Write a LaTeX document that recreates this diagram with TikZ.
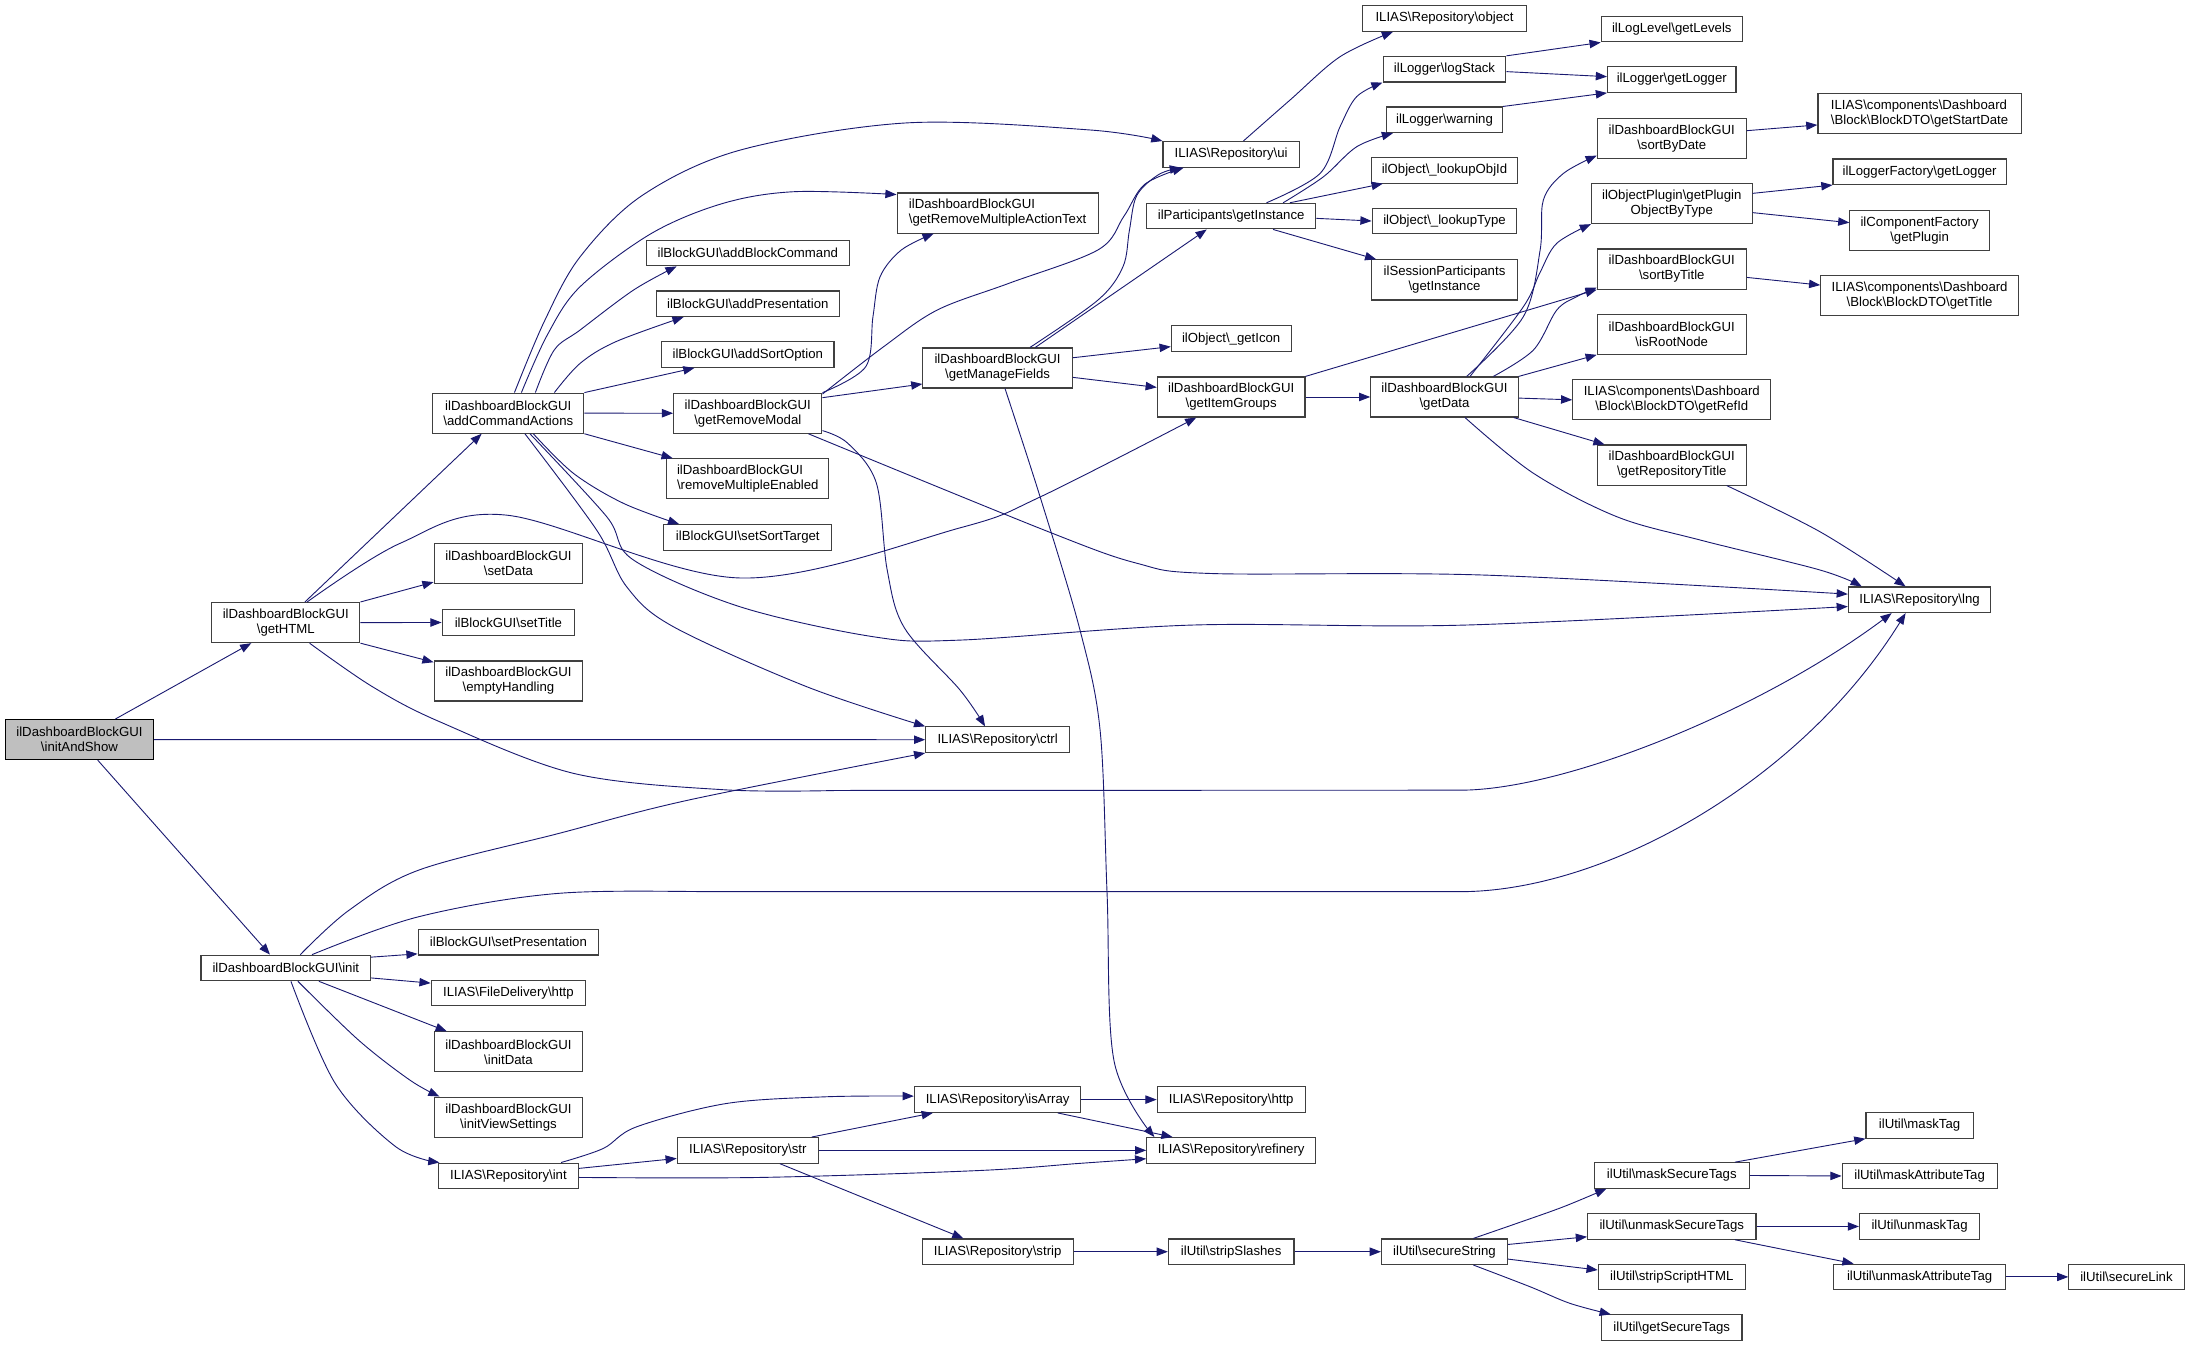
\documentclass[tikz,border=0pt]{standalone}
\usepackage{fontspec}
\setmainfont{Liberation Sans}
\usetikzlibrary{arrows.meta}
\definecolor{edgecol}{HTML}{191970}
\definecolor{bordcol}{HTML}{404040}
\definecolor{rootfill}{HTML}{BFBFBF}
\newcommand\bsl{\textbackslash}
\newcommand\nb[7][]{\node[bx,#1,minimum width=#5pt,minimum height=#6pt] (#2) at (#3,#4) {#7};}
\begin{document}
\begin{tikzpicture}[x=1pt,y=-1pt,
  bx/.style={draw=bordcol, line width=0.8pt, fill=white, inner sep=0pt, align=center, font=\fontsize{9.45}{10.7}\selectfont},
  edg/.style={draw=edgecol, line width=0.65pt, -{Triangle[length=8pt,width=6pt]}},
  sm/.style={smooth, tension=0.55}]
\useasboundingbox (0,0) rectangle (1568,964.9);
% rank 0-2
\nb[fill=rootfill,draw=black]{root}{56.9}{529.75}{106.3}{28.7}{ilDashboardBlockGUI\\\bsl initAndShow}
\nb{gh}{204.75}{445.95}{106.1}{28.7}{ilDashboardBlockGUI\\\bsl getHTML}
\nb{init}{204.75}{693.35}{121.5}{18.3}{ilDashboardBlockGUI\bsl init}
\nb{aca}{364.1}{295.95}{108.2}{28.7}{ilDashboardBlockGUI\\\bsl addCommandActions}
\nb{sd}{364.2}{403.7}{106.5}{28.7}{ilDashboardBlockGUI\\\bsl setData}
\nb{st}{364.2}{445.9}{95}{18.3}{ilBlockGUI\bsl setTitle}
\nb{eh}{364.2}{487.8}{106.5}{28.7}{ilDashboardBlockGUI\\\bsl emptyHandling}
\nb{sp}{364.2}{674.9}{129.4}{18.3}{ilBlockGUI\bsl setPresentation}
\nb{fd}{364.2}{711.35}{110.7}{18.3}{ILIAS\bsl FileDelivery\bsl http}
\nb{idata}{364.2}{753.45}{106}{28.7}{ilDashboardBlockGUI\\\bsl initData}
\nb{ivs}{364.2}{800.2}{106}{28.7}{ilDashboardBlockGUI\\\bsl initViewSettings}
\nb{rint}{364.2}{842.25}{100.5}{18.3}{ILIAS\bsl Repository\bsl int}
% rank 3
\nb{abc}{535.65}{181.25}{145.3}{18.3}{ilBlockGUI\bsl addBlockCommand}
\nb{ap}{535.65}{217.55}{131}{18.3}{ilBlockGUI\bsl addPresentation}
\nb{aso}{535.65}{254}{123.5}{18.3}{ilBlockGUI\bsl addSortOption}
\nb{grm}{535.65}{296}{106.2}{28.7}{ilDashboardBlockGUI\\\bsl getRemoveModal}
\nb[align=left]{rme}{535.65}{342.95}{116}{28.7}{ilDashboardBlockGUI\\\bsl removeMultipleEnabled}
\nb{sst}{535.65}{385}{120.5}{18.3}{ilBlockGUI\bsl setSortTarget}
\nb{str}{535.65}{824}{101}{18.3}{ILIAS\bsl Repository\bsl str}
% rank 4
\nb[align=left]{grmat}{714.6}{152.6}{144}{28.7}{ilDashboardBlockGUI\\\bsl getRemoveMultipleActionText}
\nb{gmf}{714.6}{263.6}{107}{28.7}{ilDashboardBlockGUI\\\bsl getManageFields}
\nb{ctrl}{714.6}{529.85}{103}{18.3}{ILIAS\bsl Repository\bsl ctrl}
\nb{isa}{714.6}{787.65}{119.3}{18.3}{ILIAS\bsl Repository\bsl isArray}
\nb{strip}{714.6}{896.6}{108.2}{18.3}{ILIAS\bsl Repository\bsl strip}
% rank 5
\nb{ui}{881.9}{110.55}{97.7}{18.3}{ILIAS\bsl Repository\bsl ui}
\nb{pgi}{881.9}{154.8}{121.2}{18.3}{ilParticipants\bsl getInstance}
\nb{gicon}{881.9}{242.6}{85.8}{18.3}{ilObject\bsl\_getIcon}
\nb{gig}{881.9}{284.35}{105.8}{28.7}{ilDashboardBlockGUI\\\bsl getItemGroups}
\nb{rhttp}{881.9}{787.65}{106}{18.3}{ILIAS\bsl Repository\bsl http}
\nb{ref}{881.9}{824}{121}{18.3}{ILIAS\bsl Repository\bsl refinery}
\nb{ss}{881.9}{896.6}{90}{18.3}{ilUtil\bsl stripSlashes}
% rank 6
\nb{obj}{1034.7}{13.25}{117}{18.3}{ILIAS\bsl Repository\bsl object}
\nb{ls}{1034.7}{49.55}{88}{18.3}{ilLogger\bsl logStack}
\nb{warn}{1034.7}{85.8}{83}{18.3}{ilLogger\bsl warning}
\nb{loid}{1034.7}{122}{105}{18.3}{ilObject\bsl\_lookupObjId}
\nb{lt}{1034.7}{158.3}{103.7}{18.3}{ilObject\bsl\_lookupType}
\nb{spi}{1034.7}{200.5}{104}{28.7}{ilSessionParticipants\\\bsl getInstance}
\nb{gd}{1034.7}{284.35}{105.6}{28.7}{ilDashboardBlockGUI\\\bsl getData}
\nb{sec}{1034.7}{896.6}{90.3}{18.3}{ilUtil\bsl secureString}
% rank 7
\nb{gl}{1197.5}{20.85}{101}{18.3}{ilLogLevel\bsl getLevels}
\nb{glog}{1197.5}{57}{92}{18.3}{ilLogger\bsl getLogger}
\nb{sbd}{1197.5}{99.2}{106.7}{28.7}{ilDashboardBlockGUI\\\bsl sortByDate}
\nb{opl}{1197.5}{145.8}{115}{28.7}{ilObjectPlugin\bsl getPlugin\\ObjectByType}
\nb{sbt}{1197.5}{192.7}{106.7}{28.7}{ilDashboardBlockGUI\\\bsl sortByTitle}
\nb{irn}{1197.5}{239.4}{106.7}{28.7}{ilDashboardBlockGUI\\\bsl isRootNode}
\nb{gri}{1197.5}{286.4}{141.8}{28.7}{ILIAS\bsl components\bsl Dashboard\\\bsl Block\bsl BlockDTO\bsl getRefId}
\nb{grt}{1197.5}{333.1}{106.7}{28.7}{ilDashboardBlockGUI\\\bsl getRepositoryTitle}
\nb{mst}{1197.5}{842}{111}{18.3}{ilUtil\bsl maskSecureTags}
\nb{ust}{1197.5}{878.5}{120.7}{18.3}{ilUtil\bsl unmaskSecureTags}
\nb{ssh}{1197.5}{914.65}{105.3}{18.3}{ilUtil\bsl stripScriptHTML}
\nb{gst}{1197.5}{951}{100.6}{18.3}{ilUtil\bsl getSecureTags}
% rank 8
\nb[align=left]{gsd}{1375}{81.15}{145.6}{28.7}{ILIAS\bsl components\bsl Dashboard\\\bsl Block\bsl BlockDTO\bsl getStartDate}
\nb{lfg}{1375}{123}{124}{18.3}{ilLoggerFactory\bsl getLogger}
\nb{cfg}{1375}{165}{99.8}{28.7}{ilComponentFactory\\\bsl getPlugin}
\nb{gt}{1375}{211.95}{141.5}{28.7}{ILIAS\bsl components\bsl Dashboard\\\bsl Block\bsl BlockDTO\bsl getTitle}
\nb{lng}{1375}{429.65}{102}{18.3}{ILIAS\bsl Repository\bsl lng}
\nb{mt}{1375}{806.1}{76.8}{18.3}{ilUtil\bsl maskTag}
\nb{mat}{1375}{842.35}{111}{18.3}{ilUtil\bsl maskAttributeTag}
\nb{ut}{1375}{878.5}{86.1}{18.3}{ilUtil\bsl unmaskTag}
\nb{uat}{1375}{914.65}{123}{18.3}{ilUtil\bsl unmaskAttributeTag}
\nb{sl}{1523.2}{914.65}{82.6}{18.3}{ilUtil\bsl secureLink}

% ---- edges ----
% root
\draw[edg] ([xshift=25.8pt]root.north) -- ([xshift=-24.75pt]gh.south);
\draw[edg] (root.east) -- (ctrl.west);
\draw[edg] ([xshift=13.1pt]root.south) -- ([xshift=-11.35pt]init.north);
% getHTML
\draw[edg] ([xshift=13.65pt]gh.north) -- ([xshift=-19.1pt]aca.south);
\draw[edg] (gh.north east) -- ([yshift=1.5pt]sd.south west);
\draw[edg] (gh.east) -- (st.west);
\draw[edg] (gh.south east) -- ([yshift=-1.3pt]eh.north west);
\draw[edg] plot[sm] coordinates {([xshift=15.25pt]gh.north) (287,389) (363,369) (530,414) (688,378) (745,356) ([xshift=-25pt]gig.south)};
\draw[edg] plot[sm] coordinates {([xshift=17pt]gh.south) (266.8,491.9) (315,517) (411,554) (518.5,565.7) (600,566.2)} -- (1046,566) .. controls (1120,566) and (1260,510) .. ([xshift=-20pt]lng.south);
% init
\draw[edg] plot[sm] coordinates {([xshift=18.75pt]init.north) (300.1,656.6) (400.2,639.9) (523,638.7) (600,638.7)} -- (1045.8,638.7) .. controls (1150,638.7) and (1290,560) .. ([xshift=-10pt]lng.south);
\draw[edg] plot[sm] coordinates {([xshift=10.35pt]init.north) (250,652) (300.1,623.2) (400.2,597) (493.6,573) (ctrl.south west)};
\draw[edg] ([yshift=-1.8pt]init.north east) -- ([yshift=1.2pt]sp.south west);
\draw[edg] ([yshift=2.4pt]init.south east) -- ([yshift=-2.4pt]fd.north west);
\draw[edg] ([xshift=23.65pt]init.south) -- ([xshift=9.2pt]idata.north west);
\draw[edg] plot[sm] coordinates {([xshift=8.65pt]init.south) (256.8,745) (293.5,773.6) ([xshift=4pt]ivs.north west)};
\draw[edg] plot[sm] coordinates {([xshift=3.65pt]init.south) (240.1,776) (283.5,821.4) ([xshift=1.2pt]rint.north west)};
% addCommandActions
\draw[edg] plot[sm] coordinates {([xshift=4.4pt]aca.north) (390,230) (415.5,184) (460,140) (530.6,107.4) (650,88) (780.8,93.1) (ui.north west)};
\draw[edg] plot[sm] coordinates {([xshift=9.4pt]aca.north) (392,240) (415.5,205.4) (466.6,167.2) (517.8,145.7) (569,137.3) ([yshift=-1.5pt]grmat.north west)};
\draw[edg] plot[sm] coordinates {([xshift=19.4pt]aca.north) (397,250.7) (415.5,236.4) (453.9,207.7) ([xshift=-51pt]abc.south)};
\draw[edg] plot[sm] coordinates {([xshift=33pt]aca.north) (415.5,260.3) (441,244.8) ([xshift=-46pt]ap.south)};
\draw[edg] (aca.north east) -- ([xshift=-38.2pt]aso.south);
\draw[edg] (aca.east) -- (grm.west);
\draw[edg] (aca.south east) -- ([xshift=4.6pt]rme.north west);
\draw[edg] plot[sm] coordinates {([xshift=17.9pt]aca.south) (410.7,339) (446.5,360.5) ([xshift=11.5pt]sst.north west)};
\draw[edg] plot[sm] coordinates {([xshift=11.9pt]aca.south) (427.4,379.7) (448.9,420.3) (482.3,448.9) (577.9,491.9) (ctrl.north west)};
\draw[edg] plot[sm] coordinates {([xshift=15.5pt]aca.south) (434.6,370.1) (453.7,401.1) (530,434.6) (625.6,456.1) (687.7,458.5) (854.8,447.7) (1050.6,447.7) ([yshift=-4.8pt]lng.west)};
% getRemoveModal
\draw[edg] plot[sm] coordinates {(grm.north east) (620.1,262.7) (625.3,226.9) (630.4,198.2) (645.7,179) ([xshift=-45.8pt]grmat.south)};
\draw[edg] plot[sm] coordinates {([yshift=-1pt]grm.north east) (633,248.3) (671.3,222.1) (722.5,203) (786.5,179) (805,155) (820,132) ([xshift=-34pt]ui.south)};
\draw[edg] ([yshift=-3.6pt]grm.north east) -- ([yshift=3.3pt]gmf.south west);
\draw[edg] plot[sm] coordinates {([yshift=2.3pt]grm.south east) (607.4,317.6) (627.8,346.2) (635.5,408.3) (648,450) (687.7,494.3) ([xshift=-9pt]ctrl.north)};
\draw[edg] plot[sm] coordinates {([xshift=43.5pt]grm.south) (748,379.7) (814.5,403.5) (867.6,410.8) (1062.5,411.9) ([yshift=4.1pt]lng.west)};
% getManageFields
\draw[edg] plot[sm] coordinates {([xshift=23.2pt]gmf.north) (786.5,214.9) (804.4,191) (809,165) (814.3,140) (830,125) ([xshift=-36pt]ui.south)};
\draw[edg] ([xshift=27pt]gmf.north) -- ([xshift=-17.5pt]pgi.south);
\draw[edg] ([yshift=-7.4pt]gmf.north east) -- ([yshift=-5.7pt]gicon.west);
\draw[edg] ([yshift=-6.7pt]gmf.east) -- ([yshift=6.85pt]gig.west);
\draw[edg] plot[sm] coordinates {([xshift=5.3pt]gmf.south) (745,355.8) (773.6,451.3) (788,523) (793,640) (798,760) ([xshift=-55pt]ref.north)};
% ilParticipants
\draw[edg] plot[sm] coordinates {([xshift=25.3pt]pgi.north) (945.6,124.2) (959.9,90.7) (971.8,69.2) (ls.south west)};
\draw[edg] plot[sm] coordinates {([xshift=37.2pt]pgi.north) (948,126.6) (971.8,105.1) ([xshift=5pt]warn.south west)};
\draw[edg] ([xshift=42pt]pgi.north) -- ([xshift=8.7pt]loid.south west);
\draw[edg] ([yshift=-1.6pt]pgi.east) -- (lt.west);
\draw[edg] ([xshift=30pt]pgi.south) -- ([xshift=3.5pt]spi.north west);
% ui
\draw[edg] plot[sm] coordinates {([xshift=8.75pt]ui.north) (924.1,71.6) (959.9,40.6) ([xshift=22pt]obj.south west)};
% getItemGroups
\draw[edg] (gig.east) -- (gd.west);
\draw[edg] (gig.north east) -- (sbt.south west);
% getData
\draw[edg] plot[sm] coordinates {([xshift=15.9pt]gd.north) (1091.2,226.8) (1103.2,179.1) (1105.5,143.3) (1119.9,124.2) ([yshift=2.5pt]sbd.south west)};
\draw[edg] plot[sm] coordinates {([xshift=18.3pt]gd.north) (1091.2,219.7) (1103.2,195) (1115.1,174.3) (opl.south west)};
\draw[edg] plot[sm] coordinates {([xshift=35pt]gd.north) (1098.4,250.7) (1115.1,222.1) (1129.4,212.5) ([yshift=1.5pt]sbt.south west)};
\draw[edg] (gd.north east) -- (irn.south west);
\draw[edg] ([yshift=-0.8pt]gd.east) -- (gri.west);
\draw[edg] ([xshift=-3.6pt]gd.south east) -- ([xshift=5.6pt]grt.north west);
\draw[edg] plot[sm] coordinates {([xshift=14.7pt]gd.south) (1098.4,339) (1158.1,370.1) (1217.8,386.8) (1303.7,408.3) ([xshift=10pt]lng.north west)};
\draw[edg] plot[sm] coordinates {([xshift=39.4pt]grt.south) (1303.7,380.9) ([xshift=-10pt]lng.north)};
% loggers
\draw[edg] (ls.north east) -- (gl.south west);
\draw[edg] ([yshift=-1.75pt]ls.east) -- ([yshift=2.1pt]glog.west);
\draw[edg] (warn.north east) -- (glog.south west);
\draw[edg] ([yshift=5.6pt]sbd.east) -- ([yshift=-8.35pt]gsd.west);
\draw[edg] ([yshift=7.3pt]opl.east) -- (lfg.south west);
\draw[edg] ([yshift=-6.5pt]opl.east) -- ([yshift=5.5pt]cfg.west);
\draw[edg] ([yshift=-6pt]sbt.east) -- ([yshift=7.75pt]gt.west);
% Repository\int etc.
\draw[edg] plot[sm] coordinates {([xshift=37.7pt]rint.north) (432.2,822.6) (456.1,807.1) (520.5,790.4) (592.2,785.6) ([yshift=2.5pt]isa.west)};
\draw[edg] ([yshift=5.35pt]rint.east) -- ([yshift=-5.8pt]str.west);
\draw[edg] plot[sm] coordinates {([yshift=-1.15pt]rint.east) (544.4,843.4) (700,838.5) (773.6,833.3) ([yshift=-6pt]ref.west)};
\draw[edg] ([xshift=45.75pt]str.north) -- ([xshift=13.65pt]isa.south west);
\draw[edg] (str.east) -- (ref.west);
\draw[edg] ([xshift=23pt]str.south) -- ([xshift=-24.5pt]strip.north);
\draw[edg] (isa.east) -- (rhttp.west);
\draw[edg] ([xshift=-17pt]isa.south east) -- ([xshift=-42pt]ref.north);
\draw[edg] (strip.east) -- (ss.west);
\draw[edg] (ss.east) -- (sec.west);
% secureString
\draw[edg] plot[sm] coordinates {([xshift=20.7pt]sec.north) (1086.5,876.3) (1119.9,864.4) ([xshift=9pt]mst.south west)};
\draw[edg] ([yshift=5.2pt]sec.east) -- ([yshift=-7.4pt]ust.west);
\draw[edg] ([yshift=-5.3pt]sec.east) -- ([yshift=4.95pt]ssh.west);
\draw[edg] plot[sm] coordinates {([xshift=20.7pt]sec.south) (1096,921.7) (1124.6,933.6) ([xshift=7pt]gst.north west)};
\draw[edg] ([xshift=45.3pt]mst.north) -- (mt.south west);
\draw[edg] (mst.east) -- (mat.west);
\draw[edg] (ust.east) -- (ut.west);
\draw[edg] ([xshift=45.3pt]ust.south) -- ([xshift=14.6pt]uat.north west);
\draw[edg] (uat.east) -- (sl.west);
\end{tikzpicture}
\end{document}
